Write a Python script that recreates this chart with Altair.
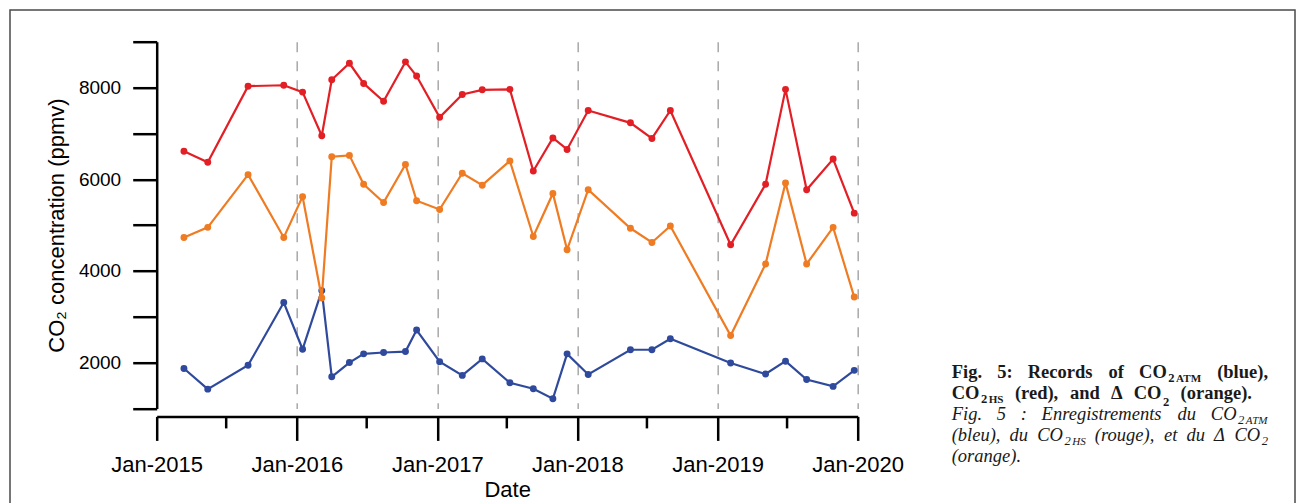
import altair as alt
import pandas as pd

# Sampling dates and CO2 records (ppmv)
dates = [
    "2015-03-13", "2015-05-14", "2015-08-27", "2015-11-28", "2016-01-16",
    "2016-03-06", "2016-04-01", "2016-05-17", "2016-06-23", "2016-08-14",
    "2016-10-10", "2016-11-08", "2017-01-07", "2017-03-07", "2017-04-28",
    "2017-07-09", "2017-09-08", "2017-10-29", "2017-12-05", "2018-01-29",
    "2018-05-19", "2018-07-14", "2018-08-31", "2019-02-04", "2019-05-06",
    "2019-06-27", "2019-08-21", "2019-10-29", "2019-12-23",
]
co2_hs = [
    6610, 6370, 8030, 8050, 7900, 6950, 8170, 8530, 8090, 7700,
    8560, 8250, 7350, 7850, 7950, 7960, 6180, 6900, 6650, 7500,
    7230, 6890, 7500, 4570, 5890, 7960, 5770, 6440, 5260,
]
delta_co2 = [
    4730, 4950, 6100, 4730, 5620, 3410, 6490, 6520, 5890, 5490,
    6320, 5530, 5340, 6130, 5870, 6400, 4750, 5690, 4460, 5770,
    4930, 4620, 4980, 2590, 4150, 5920, 4150, 4950, 3430,
]
co2_atm = [
    1870, 1420, 1940, 3310, 2290, 3570, 1690, 2000, 2190, 2220,
    2240, 2710, 2020, 1720, 2080, 1560, 1430, 1210, 2190, 1740,
    2280, 2280, 2520, 1990, 1750, 2030, 1630, 1480, 1830,
]

mid_year_ticks = ["2015-07-01", "2016-07-01", "2017-07-01", "2018-07-01", "2019-07-01"]
year_ticks = [2015, 2016, 2017, 2018, 2019, 2020]
y_ticks = [1000, 2000, 3000, 4000, 5000, 6000, 7000, 8000, 9000]

# Caption: each line is a list of words, each word a list of runs
# (text, relative size, baseline shift); lines are justified to a right edge.
caption_lines = [
    ("bold", [[("Fig.", 1, 0)], [("5:", 1, 0)], [("Records", 1, 0)], [("of", 1, 0)],
              [("CO", 1, 0), ("2", 0.68, 4), ("ATM", 0.6, 4)], [("(blue),", 1, 0)]], 1268),
    ("bold", [[("CO", 1, 0), ("2", 0.68, 4), ("HS", 0.6, 4)], [("(red),", 1, 0)],
              [("and", 1, 0)], [("Δ", 1, 0)], [("CO", 1, 0), ("2", 0.68, 7)],
              [("(orange).", 1, 0)]], 1252),
    ("italic", [[("Fig.", 1, 0)], [("5", 1, 0)], [(":", 1, 0)], [("Enregistrements", 1, 0)],
                [("du", 1, 0)], [("CO", 1, 0), ("2", 0.68, 4), ("ATM", 0.6, 4)]], 1268),
    ("italic", [[("(bleu),", 1, 0)], [("du", 1, 0)], [("CO", 1, 0), ("2", 0.68, 4), ("HS", 0.6, 4)],
                [("(rouge),", 1, 0)], [("et", 1, 0)], [("du", 1, 0)], [("Δ", 1, 0)],
                [("CO", 1, 0), ("2", 0.68, 4)]], 1268),
    ("italic", [[("(orange).", 1, 0)]], None),
]

W, H = 701, 366.7
LEFT, TOP = 156.7, 41.7
PAGE_W, PAGE_H = 1297, 503
CAP_X, CAP_Y0, CAP_DY, CAP_FS = 951.7, 378, 21, 18.5

# Times-metric advance widths (per 1000 em) used to lay out the caption words
BOLD_W = {" ": 250, "(": 333, ")": 333, ",": 250, ".": 250, ":": 333, "2": 500, "5": 500,
          "A": 722, "C": 722, "F": 611, "H": 778, "M": 944, "O": 778, "R": 722, "S": 556,
          "T": 667, "Δ": 612, "a": 500, "b": 556, "d": 556, "e": 444, "f": 333, "g": 500,
          "i": 278, "l": 278, "n": 556, "o": 500, "r": 444, "s": 389, "u": 556}
ITAL_W = {" ": 250, "(": 333, ")": 333, ",": 250, ".": 250, ":": 333, "2": 500, "5": 500,
          "A": 611, "C": 667, "E": 611, "F": 611, "H": 722, "M": 833, "O": 722, "S": 500,
          "T": 556, "Δ": 612, "a": 500, "b": 500, "d": 500, "e": 444, "g": 500, "i": 278,
          "l": 278, "m": 722, "n": 500, "o": 500, "r": 389, "s": 389, "t": 278, "u": 500}


def run_width(text, table, fs):
    return sum(table.get(c, 500) for c in text) / 1000 * fs


def layout_caption():
    rows = {"bold": [], "italic": []}
    for i, (style, words, right) in enumerate(caption_lines):
        table = BOLD_W if style == "bold" else ITAL_W
        base_y = CAP_Y0 + i * CAP_DY
        widths = []
        for word in words:
            w = sum(run_width(t, table, CAP_FS * f) for t, f, _ in word)
            widths.append(w + 1.5 * (len(word) - 1))
        if right is None or len(words) < 2:
            gap = run_width(" ", table, CAP_FS)
        else:
            gap = (right - CAP_X - sum(widths)) / (len(words) - 1)
        x = CAP_X
        for word, w in zip(words, widths):
            rx = x
            for t, f, dy in word:
                rows[style].append((t, rx, base_y + dy, CAP_FS * f))
                rx += run_width(t, table, CAP_FS * f) + 1.5
            x += w + gap
    return rows


series_order = ["atm", "hs", "delta"]
colors = {"atm": "#2f4a9c", "hs": "#e31f26", "delta": "#ef7b22"}

df = pd.DataFrame({
    "date": dates * 3,
    "value": co2_atm + co2_hs + delta_co2,
    "series": ["atm"] * len(dates) + ["hs"] * len(dates) + ["delta"] * len(dates),
})

x_scale = alt.Scale(
    type="utc",
    domain=[alt.DateTime(year=2015, month=1, date=1, utc=True),
            alt.DateTime(year=2020, month=1, date=1, utc=True)],
)
y_scale = alt.Scale(domain=[1000, 9000], nice=False, zero=False)

x_axis = alt.Axis(
    orient="bottom",
    values=[alt.DateTime(year=yr, month=1, date=1, utc=True) for yr in year_ticks],
    labelExpr="utcFormat(datum.value, '%b-%Y')",
    offset=8, tickSize=24, tickWidth=2.5, tickColor="black",
    domainColor="black", domainWidth=2.5,
    labelFont="Liberation Sans", labelFontSize=22, labelColor="black",
    labelPadding=14, labelFlush=False, labelOverlap=False, labelBound=False,
    title="Date", titleFont="Liberation Sans", titleFontSize=22,
    titleFontWeight="normal", titleColor="black", titlePadding=4,
    grid=True, gridDash=[10, 9], gridColor="#a8a8a8", gridWidth=1.5,
)
y_axis = alt.Axis(
    orient="left",
    values=y_ticks,
    labelExpr="datum.value % 2000 == 0 ? datum.label : ''",
    format="d",
    tickSize=24, tickWidth=2.5, tickColor="black",
    domainColor="black", domainWidth=2.5,
    labelFont="Liberation Sans", labelFontSize=19, labelColor="black",
    labelPadding=12, labelOverlap=False,
    title="CO₂ concentration (ppmv)", titleFont="Liberation Sans",
    titleFontSize=22, titleFontWeight="normal", titleColor="black",
    titlePadding=10, grid=False,
)

enc_x = alt.X("date:T", scale=x_scale, axis=x_axis)
enc_y = alt.Y("value:Q", scale=y_scale, axis=y_axis)

series_layers = []
for s in series_order:
    sub = alt.Chart(df).transform_filter(alt.datum.series == s)
    series_layers.append(sub.mark_line(color=colors[s], strokeWidth=2.2).encode(x=enc_x, y=enc_y))
    series_layers.append(sub.mark_circle(color=colors[s], size=48, opacity=1).encode(x=enc_x, y=enc_y))

plot = alt.layer(*series_layers)

# Half-year minor ticks under the date axis
minor = alt.Chart(pd.DataFrame({"d": mid_year_ticks})).mark_rule(
    color="black", strokeWidth=2.5
).encode(
    x=alt.X("d:T", scale=x_scale, axis=None),
    y=alt.value(H + 8),
    y2=alt.value(H + 8 + 12),
)

# Figure frame
frame = alt.Chart(pd.DataFrame({"k": [0]})).mark_rect(
    filled=False, stroke="#4a4a4a", strokeWidth=1.5
).encode(
    x=alt.value(10 - LEFT), x2=alt.value(1295 - LEFT),
    y=alt.value(10 - TOP), y2=alt.value(PAGE_H + 20 - TOP),
)

caption_rows = layout_caption()


def caption_layer(rows, style, weight):
    cdf = pd.DataFrame(rows, columns=["t", "px", "py", "fs"])
    return alt.Chart(cdf).transform_calculate(
        cx=f"datum.px - {LEFT}", cy=f"datum.py - {TOP}"
    ).mark_text(
        align="left", baseline="alphabetic", font="Liberation Serif",
        fontStyle=style, fontWeight=weight, color="#1a1a1a",
    ).encode(
        x=alt.X("cx:Q", scale=None, axis=None),
        y=alt.Y("cy:Q", scale=None, axis=None),
        size=alt.Size("fs:Q", scale=None, legend=None),
        text="t:N",
    )


chart = alt.layer(
    frame, minor, plot,
    caption_layer(caption_rows["bold"], "normal", "bold"),
    caption_layer(caption_rows["italic"], "italic", "normal"),
).resolve_scale(
    x="independent", y="independent"
).resolve_axis(
    x="independent", y="independent"
).properties(
    width=W, height=H,
    autosize=alt.AutoSizeParams(type="none"),
    padding={"left": LEFT, "top": TOP,
             "right": PAGE_W - LEFT - W, "bottom": PAGE_H - TOP - H},
    background="white",
).configure_view(stroke=None)

chart.save("out.html", embed_options={"renderer": "svg", "actions": False})
